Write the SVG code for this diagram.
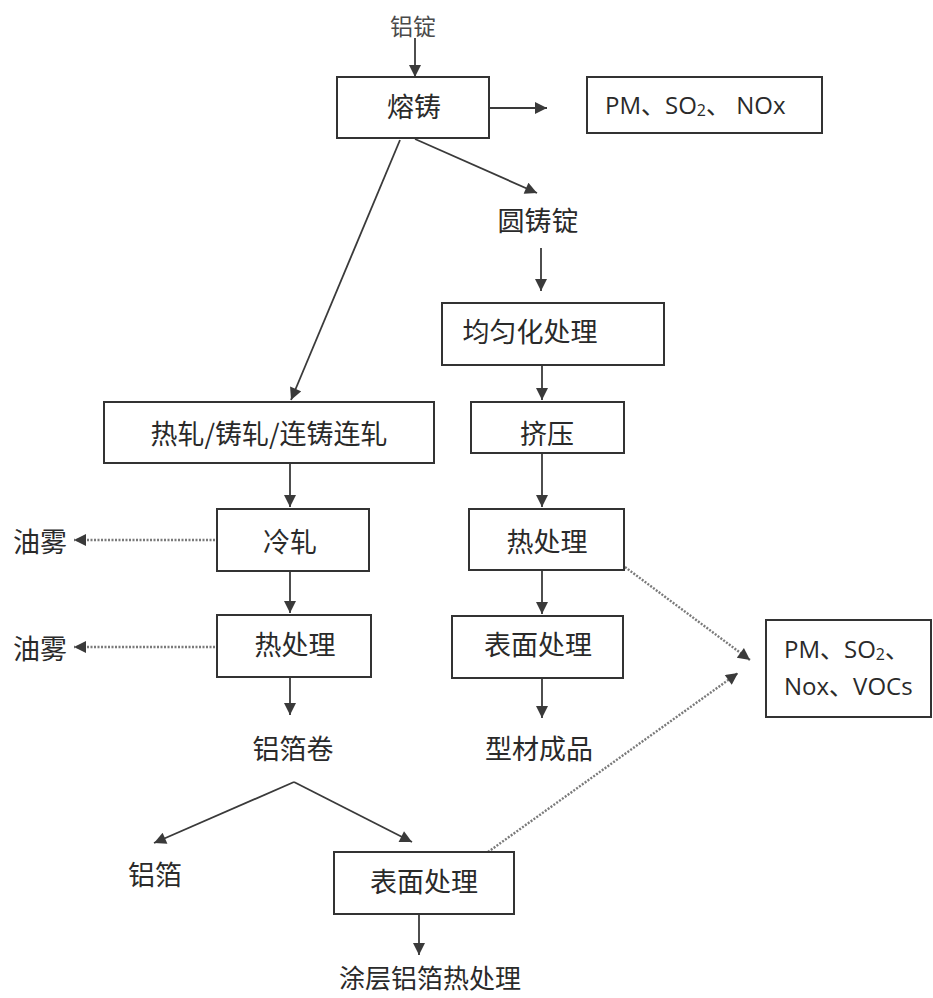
<svg xmlns="http://www.w3.org/2000/svg" width="933" height="998" viewBox="0 0 933 998">
<style>
.box{fill:#fff;stroke:#333;stroke-width:2}
.t{font-family:"Noto Sans CJK SC",sans-serif;font-size:27px;fill:#2a2a2a;text-anchor:middle;dominant-baseline:central}
.lat{font-family:"Open Sans","Noto Sans CJK SC",sans-serif;font-size:24px;fill:#2a2a2a;dominant-baseline:central}
.ln{stroke:#3a3a3a;stroke-width:1.8;fill:none;marker-end:url(#ah)}
.dl{stroke:#7a7a7a;stroke-width:2.4;fill:none;stroke-dasharray:2 1.5;marker-end:url(#ah)}
</style>
<defs>
<marker id="ah" viewBox="0 0 10 10" refX="10" refY="5" markerWidth="14" markerHeight="12" markerUnits="userSpaceOnUse" orient="auto">
<path d="M0,0 L10,5 L0,10 z" fill="#3a3a3a"/>
</marker>
</defs>
<rect width="933" height="998" fill="#fff"/>
<g id="connectors">
<path class="ln" d="M415,38 L415,77"/>
<path class="ln" d="M490,108 L547,108"/>
<path class="ln" d="M415,139 L537,193"/>
<path class="ln" d="M400,140 L291,400"/>
<path class="ln" d="M541,248 L541,291"/>
<path class="ln" d="M542,365 L542,400"/>
<path class="ln" d="M542,453 L542,507"/>
<path class="ln" d="M542,570 L542,614"/>
<path class="ln" d="M542,678 L542,718"/>
<path class="ln" d="M290,463 L290,507"/>
<path class="ln" d="M290,571 L290,613"/>
<path class="ln" d="M290,677 L290,715"/>
<path class="dl" d="M215,540 L74,540"/>
<path class="dl" d="M215,647 L74,647"/>
<path class="dl" d="M625,567 L750,660"/>
<path class="dl" d="M488,852 L738,673"/>
<path class="ln" d="M294,782 L154,843"/>
<path class="ln" d="M294,782 L412,842"/>
<path class="ln" d="M419,914 L419,955"/>
</g>
<g id="n-ingot"><text class="t" x="413" y="25" style="font-size:23px;fill:#4a4a4a">铝锭</text></g>
<g id="n-melt"><rect class="box" x="337" y="77" width="152" height="61"/><text class="t" x="414" y="105">熔铸</text></g>
<g id="n-emis1"><rect class="box" x="587" y="77" width="235" height="56"/><text class="lat" x="605" y="104">PM、SO<tspan font-size="16" dy="6">2</tspan><tspan dy="-6">、 NOx</tspan></text></g>
<g id="n-round"><text class="t" x="538" y="219">圆铸锭</text></g>
<g id="n-homog"><rect class="box" x="442" y="303" width="222" height="62"/><text class="t" x="530" y="330">均匀化处理</text></g>
<g id="n-extrude"><rect class="box" x="471" y="402" width="153" height="51"/><text class="t" x="547" y="432">挤压</text></g>
<g id="n-hotroll"><rect class="box" x="104" y="402" width="330" height="61"/><text class="t" x="269" y="432">热轧/铸轧/连铸连轧</text></g>
<g id="n-cold"><rect class="box" x="217" y="509" width="152" height="62"/><text class="t" x="290" y="540">冷轧</text></g>
<g id="n-oil1"><text class="t" x="40" y="540">油雾</text></g>
<g id="n-heatL"><rect class="box" x="217" y="615" width="154" height="62"/><text class="t" x="295" y="643">热处理</text></g>
<g id="n-oil2"><text class="t" x="40" y="647">油雾</text></g>
<g id="n-coil"><text class="t" x="293" y="747">铝箔卷</text></g>
<g id="n-heatR"><rect class="box" x="469" y="509" width="155" height="61"/><text class="t" x="547" y="540">热处理</text></g>
<g id="n-surfR"><rect class="box" x="452" y="616" width="171" height="62"/><text class="t" x="538" y="643">表面处理</text></g>
<g id="n-profile"><text class="t" x="539" y="747">型材成品</text></g>
<g id="n-emis2"><rect class="box" x="766" y="620" width="165" height="97"/><text class="lat" x="784" y="648">PM、SO<tspan font-size="16" dy="6">2</tspan><tspan dy="-6">、</tspan></text><text class="lat" x="784" y="685">Nox、VOCs</text></g>
<g id="n-foil"><text class="t" x="155" y="873">铝箔</text></g>
<g id="n-surfB"><rect class="box" x="334" y="852" width="180" height="62"/><text class="t" x="424" y="880">表面处理</text></g>
<g id="n-coated"><text class="t" x="430" y="976" style="font-size:26px">涂层铝箔热处理</text></g>
</svg>
